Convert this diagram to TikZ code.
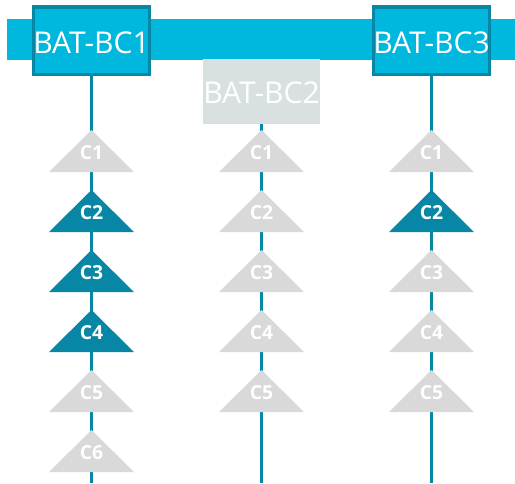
\documentclass[tikz,border=0pt]{standalone}
\usepackage{fontspec}
\setmainfont{Open Sans}
\usetikzlibrary{positioning}

\definecolor{bannercyan}{HTML}{00B8DE}
\definecolor{wireteal}{HTML}{0787A5}
\definecolor{idlegray}{HTML}{D9D9D9}
\definecolor{boxgray}{HTML}{D9E0E2}

\begin{document}
\begin{tikzpicture}[x=0.75pt, y=-0.75pt,
  bcbox/.style={draw=wireteal, line width=2.6pt, fill=bannercyan, text=white,
    inner sep=0pt, minimum width=85.1pt, minimum height=50.6pt,
    text height=20pt, text depth=0pt, font=\fontsize{22.5}{24}\selectfont},
  bcidle/.style={fill=boxgray, text=white, inner sep=0pt,
    minimum width=87.75pt, minimum height=48.75pt,
    text height=18pt, text depth=0pt, font=\fontsize{22.5}{24}\selectfont},
  wire/.style={wireteal, line width=2.25pt},
  tag/.style={text=white, inner sep=0pt, font=\bfseries\fontsize{14.5}{15}\selectfont}]
  %----- 版面 -----
  \useasboundingbox (0,0) rectangle (515,483);
  \fill[bannercyan] (7,19) rectangle (515,60);

  % (column x, index, name, label, colour)
  \def\cellmark#1#2#3#4#5{
    \pgfmathsetmacro{\by}{172+60*(#2-1)}
    \fill[#5] (#1-42.5,\by) -- (#1,\by-42) -- (#1+42.5,\by) -- cycle;
    \node[tag] (#3) at (#1,\by-19) {#4};
  }

  %----- 控制器 -----
  \node[bcbox] (bc1) at (91.5,40.5) {BAT-BC1};
  \node[bcidle] (bc2) at (261.5,91.5) {BAT-BC2};
  \node[bcbox] (bc3) at (431.5,40.5) {BAT-BC3};
  \coordinate (bc1end) at (91.5,483);
  \coordinate (bc2end) at (261.5,483);
  \coordinate (bc3end) at (431.5,483);

  %----- 線 -----
  \draw[wire] (bc1.south) -- (bc1end);
  \draw[wire] (bc2.south) -- (bc2end);
  \draw[wire] (bc3.south) -- (bc3end);

  %----- BAT-BC1: C1..C6 -----
  \cellmark{91.5}{1}{a1}{C1}{idlegray}
  \cellmark{91.5}{2}{a2}{C2}{wireteal}
  \cellmark{91.5}{3}{a3}{C3}{wireteal}
  \cellmark{91.5}{4}{a4}{C4}{wireteal}
  \cellmark{91.5}{5}{a5}{C5}{idlegray}
  \cellmark{91.5}{6}{a6}{C6}{idlegray}

  %----- BAT-BC2: C1..C5 -----
  \cellmark{261.5}{1}{b1}{C1}{idlegray}
  \cellmark{261.5}{2}{b2}{C2}{idlegray}
  \cellmark{261.5}{3}{b3}{C3}{idlegray}
  \cellmark{261.5}{4}{b4}{C4}{idlegray}
  \cellmark{261.5}{5}{b5}{C5}{idlegray}

  %----- BAT-BC3: C1..C5 -----
  \cellmark{431.5}{1}{c1}{C1}{idlegray}
  \cellmark{431.5}{2}{c2}{C2}{wireteal}
  \cellmark{431.5}{3}{c3}{C3}{idlegray}
  \cellmark{431.5}{4}{c4}{C4}{idlegray}
  \cellmark{431.5}{5}{c5}{C5}{idlegray}
\end{tikzpicture}
\end{document}
